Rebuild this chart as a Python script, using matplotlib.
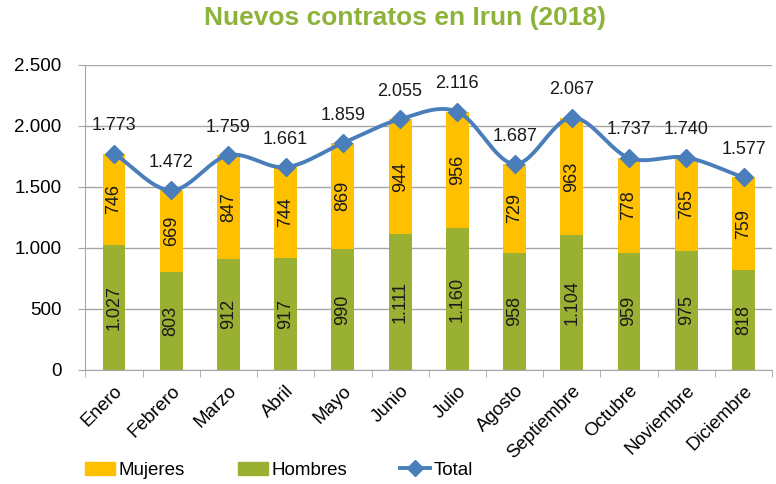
import numpy as np
import matplotlib.pyplot as plt
from matplotlib.lines import Line2D
from matplotlib.patches import Patch

# Data
months = ['Enero', 'Febrero', 'Marzo', 'Abril', 'Mayo', 'Junio', 'Julio',
          'Agosto', 'Septiembre', 'Octubre', 'Noviembre', 'Diciembre']
hombres = [1027, 803, 912, 917, 990, 1111, 1160, 958, 1104, 959, 975, 818]
mujeres = [746, 669, 847, 744, 869, 944, 956, 729, 963, 778, 765, 759]
total = [1773, 1472, 1759, 1661, 1859, 2055, 2116, 1687, 2067, 1737, 1740, 1577]

GREEN = '#99B032'
ORANGE = '#FFC000'
BLUE = '#4A7EBB'
GRID = '#A6A6A6'

plt.rcParams['font.family'] = ['Liberation Sans', 'DejaVu Sans']


def fmt(v):
    return f'{v:,}'.replace(',', '.')


def smooth(x, y, n=30):
    # Catmull-Rom style smoothing, like Excel's smoothed line
    x = np.asarray(x, float)
    y = np.asarray(y, float)
    px = np.concatenate([[2 * x[0] - x[1]], x, [2 * x[-1] - x[-2]]])
    py = np.concatenate([[2 * y[0] - y[1]], y, [2 * y[-1] - y[-2]]])
    xs, ys = [], []
    t = np.linspace(0, 1, n)
    for i in range(1, len(px) - 2):
        p0, p1, p2, p3 = py[i - 1], py[i], py[i + 1], py[i + 2]
        q0, q1, q2, q3 = px[i - 1], px[i], px[i + 1], px[i + 2]
        ys.append(0.5 * ((2 * p1) + (-p0 + p2) * t + (2 * p0 - 5 * p1 + 4 * p2 - p3) * t**2
                         + (-p0 + 3 * p1 - 3 * p2 + p3) * t**3))
        xs.append(0.5 * ((2 * q1) + (-q0 + q2) * t + (2 * q0 - 5 * q1 + 4 * q2 - q3) * t**2
                         + (-q0 + 3 * q1 - 3 * q2 + q3) * t**3))
    return np.concatenate(xs), np.concatenate(ys)


fig = plt.figure(figsize=(7.76, 4.84), dpi=100)
ax = fig.add_axes([0.110, 0.236, 0.885, 0.630])

x = np.arange(len(months))
w = 0.4
ax.bar(x, hombres, w, color=GREEN, zorder=2)
ax.bar(x, mujeres, w, bottom=hombres, color=ORANGE, zorder=2)

sx, sy = smooth(x, total)
ax.plot(sx, sy, color=BLUE, lw=2.8, zorder=3)
ax.plot(x, total, 'D', color=BLUE, ms=9, zorder=4)

for i in range(len(months)):
    ax.text(x[i], hombres[i] / 2, fmt(hombres[i]), rotation=90, ha='center',
            va='center', fontsize=13, color='#1a1a1a', zorder=5)
    ax.text(x[i], hombres[i] + mujeres[i] / 2, fmt(mujeres[i]), rotation=90,
            ha='center', va='center', fontsize=13, color='#1a1a1a', zorder=5)
    ax.text(x[i], total[i] + 160, fmt(total[i]), ha='center', va='bottom',
            fontsize=13, color='#1a1a1a', zorder=5)

ax.set_xlim(-0.5, len(months) - 0.5)
ax.set_ylim(0, 2500)
yt = np.arange(0, 2501, 500)
ax.set_yticks(yt)
ax.set_yticklabels([fmt(v) for v in yt], fontsize=13.5)
ax.yaxis.grid(True, color=GRID, lw=1, zorder=0)
ax.set_axisbelow(True)

ax.set_xticks(x)
ax.set_xticklabels(months, rotation=45, ha='right', rotation_mode='anchor',
                   fontsize=13.5)
ax.tick_params(axis='x', length=0, pad=9)
ax.set_xticks(np.arange(-0.5, len(months), 1), minor=True)
ax.tick_params(axis='x', which='minor', length=5, color=GRID)
ax.tick_params(axis='y', length=5, color=GRID, pad=12)

for s in ['top', 'right']:
    ax.spines[s].set_visible(False)
ax.spines['left'].set_color(GRID)
ax.spines['bottom'].set_color(GRID)

fig.text(0.522, 0.962, 'Nuevos contratos en Irun (2018)', ha='center',
         va='center', fontsize=19, fontweight='bold', color='#8DB33A')

handles = [Patch(color=ORANGE, label='Mujeres'),
           Patch(color=GREEN, label='Hombres'),
           Line2D([], [], color=BLUE, lw=2.8, marker='D', ms=8, label='Total')]
fig.legend(handles=handles, loc='center left', bbox_to_anchor=(0.088, 0.028),
           ncol=3, frameon=False, fontsize=13.5, columnspacing=2.8,
           handlelength=1.6, handletextpad=0.2)

fig.savefig('out.png', dpi=100)
